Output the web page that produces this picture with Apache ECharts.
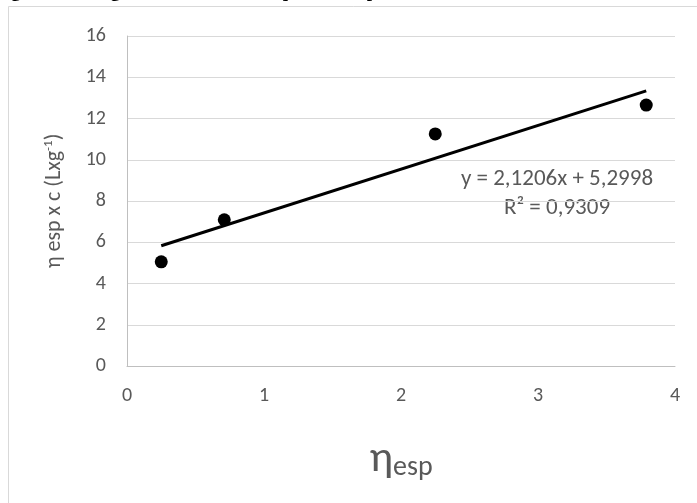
<!DOCTYPE html>
<html>
<head>
<meta charset="utf-8">
<script src="https://cdn.jsdelivr.net/npm/echarts@6/dist/echarts.min.js"></script>
<style>
html,body{margin:0;padding:0;background:#fff;}
#chart{width:697px;height:503px;}
</style>
</head>
<body>
<div id="chart"></div>
<script>
// Data
var xValues = [0.25, 0.71, 2.25, 3.79];
var yValues = [5.05, 7.09, 11.25, 12.65];
var slope = 2.1206;
var intercept = 5.2998;
var rSquared = '0,9309';
var equationText = 'y = 2,1206x + 5,2998';
var titleText = 'Figura 3- 6 Regressão linear da aníquota e da pectina de Sabão C';
var xTicks = [0, 1, 2, 3, 4];
var yTicks = [0, 2, 4, 6, 8, 10, 12, 14, 16];

var points = xValues.map(function (x, i) { return [x, yValues[i]]; });
var xMin = Math.min.apply(null, xValues), xMax = Math.max.apply(null, xValues);
var trend = [[xMin, slope * xMin + intercept], [xMax, slope * xMax + intercept]];

var chart = echarts.init(document.getElementById('chart'), null, {renderer: 'canvas'});
var font = 'Carlito, "Open Sans", Lato, sans-serif';
var grey = '#595959';
chart.setOption({
  animation: false,
  backgroundColor: '#fff',
  textStyle: {fontFamily: font},
  grid: {left: 127, right: 22, top: 36, bottom: 137, containLabel: false},
  graphic: [
    {type: 'rect', shape: {x: 8.5, y: 6.5, width: 720, height: 520}, style: {fill: 'none', stroke: '#d9d9d9', lineWidth: 1}, z: -1},
    {type: 'text', left: -6, top: -17, style: {text: titleText, font: 'bold 19px "Liberation Serif", "DejaVu Serif", serif', fill: '#000'}},
    {type: 'text', x: 557, y: 179, style: {text: equationText, font: '23px ' + font, fill: grey, align: 'center', verticalAlign: 'middle'}},
    {type: 'text', x: 557, y: 208, style: {text: 'R² = ' + rSquared, font: '23px ' + font, fill: grey, align: 'center', verticalAlign: 'middle'}}
  ],
  xAxis: {
    type: 'value', min: 0, max: 4, interval: 1,
    axisLine: {show: true, lineStyle: {color: '#bfbfbf', width: 1}},
    axisTick: {show: false},
    splitLine: {show: false},
    axisLabel: {color: grey, fontSize: 20, margin: 20, fontFamily: font},
    name: '{a|η}{b|esp}',
    nameLocation: 'middle',
    nameGap: 70,
    nameTextStyle: {
      rich: {
        a: {fontSize: 44, color: grey, fontFamily: font, verticalAlign: 'bottom'},
        b: {fontSize: 28, color: grey, fontFamily: font, padding: [18, 0, 0, 0], verticalAlign: 'bottom'}
      }
    }
  },
  yAxis: {
    type: 'value', min: 0, max: 16, interval: 2,
    axisLine: {show: true, lineStyle: {color: '#bfbfbf', width: 1}},
    axisTick: {show: false},
    splitLine: {show: true, lineStyle: {color: '#d9d9d9', width: 1}},
    axisLabel: {color: grey, fontSize: 20, margin: 21, fontFamily: font},
    name: '{a|η esp x c (Lxg}{s|-1}{a|)}',
    nameLocation: 'middle',
    nameGap: 60,
    nameTextStyle: {
      rich: {
        a: {fontSize: 22, color: grey, fontFamily: font},
        s: {fontSize: 13, color: grey, fontFamily: font, padding: [0, 0, 12, 0]}
      }
    }
  },
  series: [
    {
      type: 'line', data: trend, symbol: 'none', silent: true,
      lineStyle: {color: '#000', width: 3}, z: 2
    },
    {
      type: 'scatter', data: points, symbol: 'circle', symbolSize: 13,
      itemStyle: {color: '#000', opacity: 1}, z: 3
    }
  ]
});
</script>
</body>
</html>
